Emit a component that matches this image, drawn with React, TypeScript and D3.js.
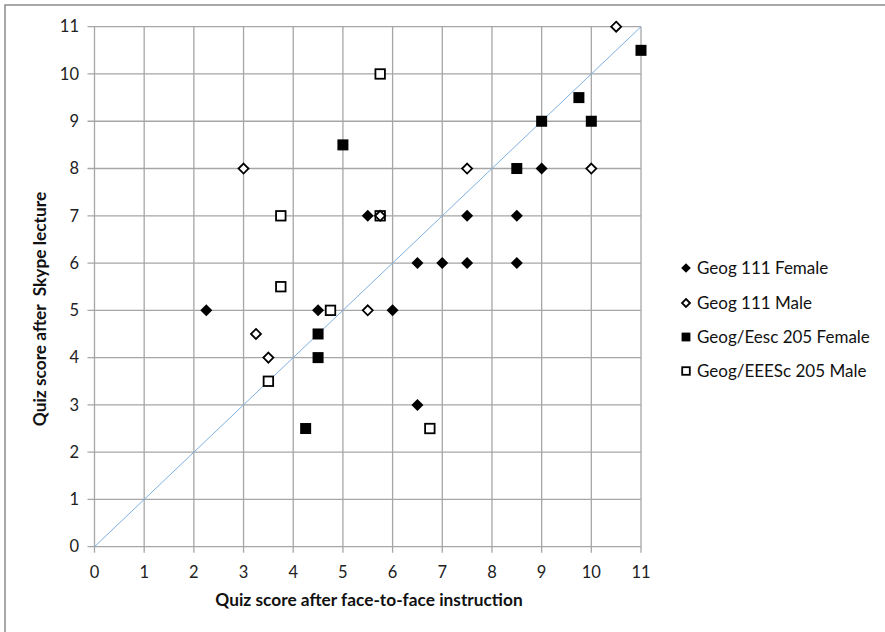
import React from 'react';
import * as d3 from 'd3';

const geog111Female = [
  [2.25, 5], [4.5, 5], [6, 5], [5.5, 7], [6.5, 6], [7, 6], [7.5, 6], [8.5, 6],
  [7.5, 7], [8.5, 7], [9, 8], [6.5, 3],
];
const geog111Male = [
  [3, 8], [3.25, 4.5], [3.5, 4], [5.5, 5], [5.75, 7], [7.5, 8], [10, 8], [10.5, 11],
];
const eesc205Female = [
  [5, 8.5], [4.5, 4.5], [4.5, 4], [4.25, 2.5], [8.5, 8], [9, 9], [9.75, 9.5], [10, 9], [11, 10.5],
];
const eesc205Male = [
  [5.75, 10], [3.75, 7], [3.75, 5.5], [4.75, 5], [3.5, 3.5], [5.75, 7], [6.75, 2.5],
];
const ticks = [0, 1, 2, 3, 4, 5, 6, 7, 8, 9, 10, 11];
const diagonal = [[0, 0], [11, 11]];

const series = [
  { name: 'Geog 111 Female', data: geog111Female, shape: 'diamond', filled: true },
  { name: 'Geog 111 Male', data: geog111Male, shape: 'diamond', filled: false },
  { name: 'Geog/Eesc 205 Female', data: eesc205Female, shape: 'square', filled: true },
  { name: 'Geog/EEESc 205 Male', data: eesc205Male, shape: 'square', filled: false },
];
// open diamonds sit on top of the open squares where they coincide
const drawOrder = [0, 2, 3, 1];

const W = 885;
const H = 632;
const FONT = "Lato, 'Open Sans', sans-serif";

const x = d3.scaleLinear().domain([0, 11]).range([94.5, 641]);
const y = d3.scaleLinear().domain([0, 11]).range([546.7, 26.7]);

const Marker = ({ shape, filled, cx, cy, scale = 1 }) => {
  if (shape === 'diamond') {
    const r = (filled ? 6 : 5) * scale;
    const d = `M${cx},${cy - r}L${cx + r},${cy}L${cx},${cy + r}L${cx - r},${cy}Z`;
    return filled ? (
      <path d={d} fill="#000" />
    ) : (
      <path d={d} fill="#fff" stroke="#000" strokeWidth={1.8} />
    );
  }
  const s = (filled ? 11 : 9.5) * scale;
  return filled ? (
    <rect x={cx - s / 2} y={cy - s / 2} width={s} height={s} fill="#000" />
  ) : (
    <rect x={cx - s / 2} y={cy - s / 2} width={s} height={s} fill="#fff" stroke="#000" strokeWidth={1.8} />
  );
};

export default function App() {
  const line = d3.line().x((d) => x(d[0])).y((d) => y(d[1]));
  const legendY = [268, 303, 337, 371];

  return (
    <div style={{ position: 'absolute', left: 0, top: 0 }}>
      <svg width={W} height={H} style={{ display: 'block', background: '#fff' }}>
        <rect x={5} y={5} width={W + 10} height={H + 10} fill="#fff" stroke="#8c8c8c" strokeWidth={1.5} />

        {/* grid */}
        {ticks.map((t) => (
          <line key={'h' + t} x1={x(0) - 7} x2={x(11)} y1={y(t)} y2={y(t)} stroke="#a6a6a6" strokeWidth={1.3} />
        ))}
        {ticks.map((t) => (
          <line key={'v' + t} x1={x(t)} x2={x(t)} y1={y(11)} y2={y(0) + 6} stroke="#a6a6a6" strokeWidth={1.3} />
        ))}

        {/* tick labels */}
        {ticks.map((t) => (
          <text key={'yl' + t} x={79} y={y(t)} dy="0.35em" textAnchor="end" fontFamily={FONT} fontSize={16.5} fill="#222">
            {t}
          </text>
        ))}
        {ticks.map((t) => (
          <text key={'xl' + t} x={x(t)} y={572} dy="0.35em" textAnchor="middle" fontFamily={FONT} fontSize={16.5} fill="#222">
            {t}
          </text>
        ))}

        <path d={line(diagonal)} fill="none" stroke="#7fb0e0" strokeWidth={1} />

        {drawOrder.map((si) => {
          const s = series[si];
          return s.data.map((d, i) => (
            <Marker key={s.name + i} shape={s.shape} filled={s.filled} cx={x(d[0])} cy={y(d[1])} />
          ));
        })}

        {/* axis titles */}
        <text x={369} y={600} dy="0.35em" textAnchor="middle" fontFamily={FONT} fontWeight="bold" fontSize={17.3} fill="#111">
          Quiz score after face-to-face instruction
        </text>
        <text
          transform={`translate(40,${309}) rotate(-90)`}
          textAnchor="middle"
          dy="0.35em"
          fontFamily={FONT}
          fontWeight="bold"
          fontSize={17.3}
          fill="#111"
          style={{ whiteSpace: 'pre' }}
        >
          {'Quiz score after  Skype lecture'}
        </text>

        {/* legend */}
        {series.map((s, i) => (
          <g key={'lg' + i}>
            <Marker shape={s.shape} filled={s.filled} cx={686} cy={legendY[i]} scale={0.8} />
            <text x={697} y={legendY[i]} dy="0.35em" fontFamily={FONT} fontSize={17} fill="#111">
              {s.name}
            </text>
          </g>
        ))}
      </svg>
    </div>
  );
}
